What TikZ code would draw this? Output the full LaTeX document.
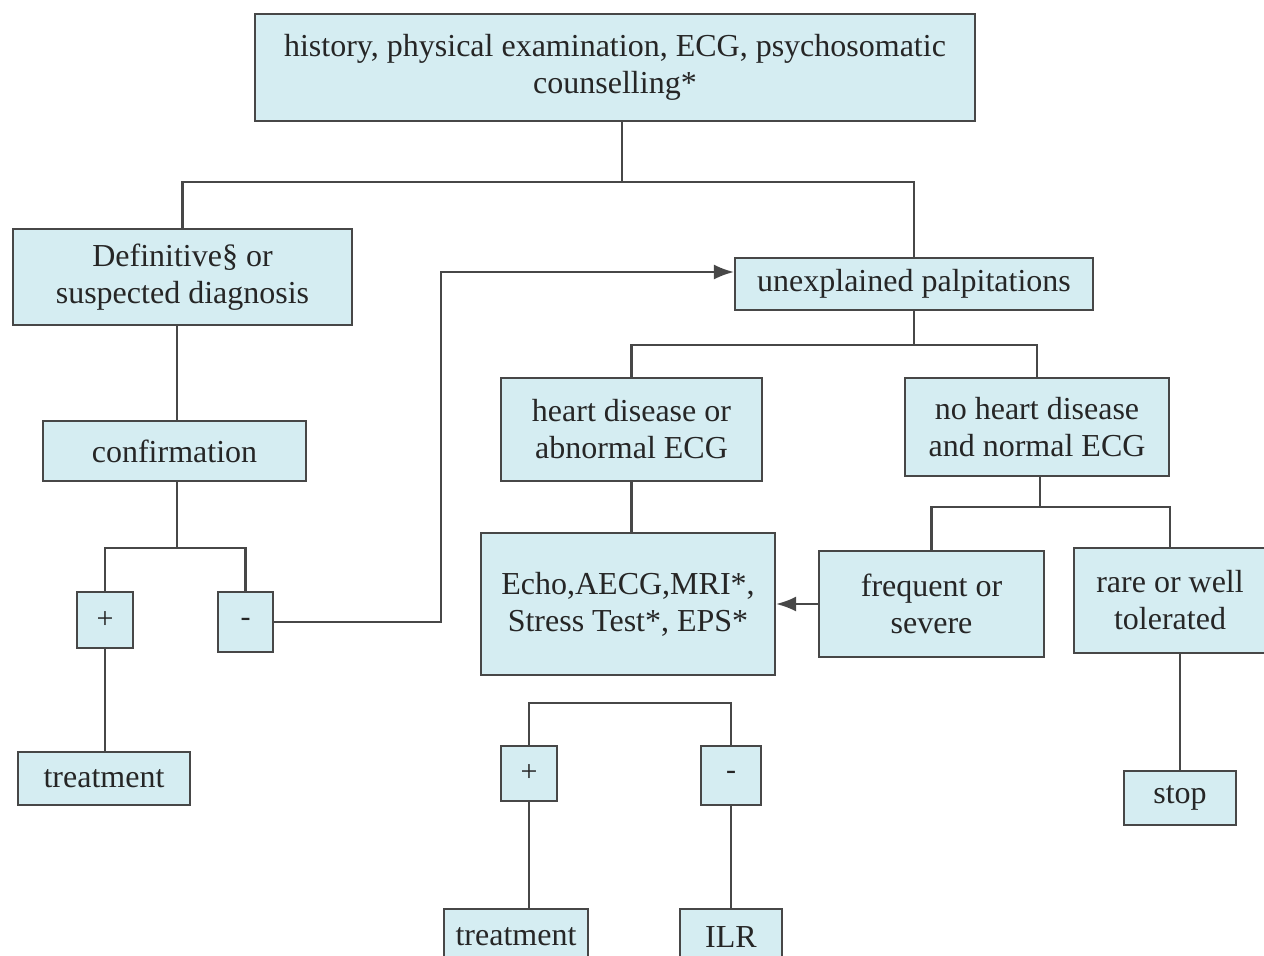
\documentclass[tikz,border=0pt]{standalone}
\usepackage{fontspec}
\setmainfont{Liberation Serif}
\usetikzlibrary{arrows.meta}
\definecolor{boxfill}{HTML}{D5EDF2}
\definecolor{boxline}{HTML}{474747}

\begin{document}
\begin{tikzpicture}[x=1pt, y=-1pt,
    box/.style={draw=boxline, line width=2.2pt, fill=boxfill, text=black!85, align=center,
                inner sep=0pt, font=\fontsize{32}{37}\selectfont},
    sign/.style={box, font=\fontsize{30}{34}\selectfont},
    link/.style={draw=boxline, line width=2.2pt},
    tip/.style={-{Latex[length=20pt, width=15pt]}}]
                \clip (0,0) rectangle (1264,956);

                % Top box
                \node[box, minimum width=720, minimum height=107] (hist) at (615,67.5) {history, physical examination, ECG, psychosomatic\\counselling*};

                % Left branch
                \node[box, minimum width=339, minimum height=96] (defin) at (182.5,277) {Definitive\S{} or\\suspected diagnosis};
                \node[box, minimum width=263, minimum height=60] (confirm) at (174.5,451) {confirmation};
                \node[sign, minimum width=56, minimum height=56] (plusA) at (105,620) {+};
                \node[sign, minimum width=55, minimum height=60] (minusA) at (245.5,622) {-};
                \node[box, minimum width=172, minimum height=53] (treatA) at (104,778.5) {treatment};

                % Right branch
                \node[box, minimum width=358, minimum height=52] (unexpl) at (914,284) {unexplained palpitations};
                \node[box, minimum width=261, minimum height=103] (heart) at (631.5,429.5) {heart disease or\\abnormal ECG};
                \node[box, minimum width=264, minimum height=98] (noheart) at (1037,427) {no heart disease\\and normal ECG};
                \node[box, minimum width=294, minimum height=142] (tests) at (628,604) {Echo,AECG,MRI*,\\Stress Test*, EPS*};
                \node[box, minimum width=225, minimum height=106] (freq) at (931.5,604) {frequent or\\severe};
                \node[box, minimum width=192, minimum height=105] (rare) at (1170,600.5) {rare or well\\tolerated};
                \node[box, minimum width=112, minimum height=54] (stop) at (1180,798) {stop};

                % Test results
                \node[sign, minimum width=56, minimum height=55] (plusB) at (529,773.5) {+};
                \node[sign, minimum width=60, minimum height=59] (minusB) at (731,775.5) {-};
                \node[box, minimum width=144, minimum height=56] (treatB) at (516,937) {treatment};
                \node[box, minimum width=102, minimum height=56] (ilr) at (731,937) {ILR};

                % Forks
                \coordinate (topfork) at (622,182);
                \coordinate (forkA) at (177,548);
                \coordinate (forkB) at (914,345);
                \coordinate (forkC) at (1040,507);
                \coordinate (forkD) at (630,703);
                \coordinate (loopup) at (441,272);

                % Connectors
                \draw[link] (hist.south -| topfork) -- (topfork);
                \draw[link] (defin.north) |- (topfork) -| (unexpl.north);
                \draw[link] (defin.south -| forkA) -- (confirm.north -| forkA);
                \draw[link] (confirm.south -| forkA) -- (forkA);
                \draw[link] (plusA.north) |- (forkA) -| (minusA.north);
                \draw[link] (plusA.south) -- (plusA.south |- treatA.north);
                \draw[link, tip] (minusA.east) -| (loopup) -- (loopup -| unexpl.west);
                \draw[link] (unexpl.south) -- (forkB);
                \draw[link] (heart.north) |- (forkB) -| (noheart.north);
                \draw[link] (heart.south) -- (heart.south |- tests.north);
                \draw[link] (noheart.south -| forkC) -- (forkC);
                \draw[link] (freq.north) |- (forkC) -| (rare.north);
                \draw[link, tip] (freq.west) -- (tests.east);
                \draw[link] (stop.north |- rare.south) -- (stop.north);
                \draw[link] (plusB.north) |- (forkD) -| (minusB.north);
                \draw[link] (plusB.south) -- (plusB.south |- treatB.north);
                \draw[link] (minusB.south) -- (ilr.north);
\end{tikzpicture}
\end{document}
